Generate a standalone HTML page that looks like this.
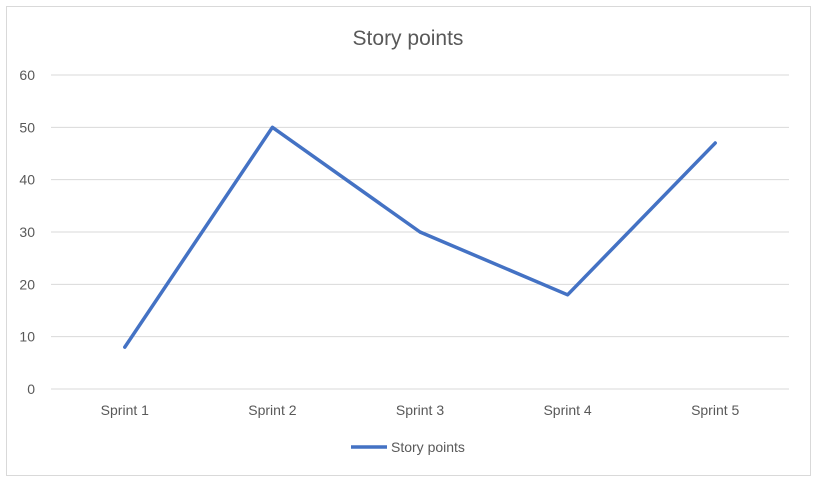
<!DOCTYPE html>
<html><head><meta charset="utf-8"><style>
body{margin:0;background:#fff;}
svg{display:block;font-family:"Liberation Sans",Arial,sans-serif;}
</style></head><body>
<svg width="819" height="482">
<rect x="6.5" y="6.5" width="804" height="469" fill="#fff" stroke="#d9d9d9"/>
<text x="408" y="45" text-anchor="middle" font-size="21" fill="#595959">Story points</text>
<g id="grid"></g>
<g id="xl"></g>
<polyline id="line" fill="none" stroke="#4472c4" stroke-width="3.5" stroke-linejoin="round" stroke-linecap="round"/>
<g>
<line x1="351" y1="447" x2="387" y2="447" stroke="#4472c4" stroke-width="3.5"/>
<text x="391" y="452" font-size="14" fill="#595959">Story points</text>
</g>
</svg>
<script>
const categories=["Sprint 1","Sprint 2","Sprint 3","Sprint 4","Sprint 5"];
const values=[8,50,30,18,47];
const yTicks=[0,10,20,30,40,50,60];
const NS="http://www.w3.org/2000/svg";
const plotLeft=51,plotRight=789,plotTop=75,plotBottom=389,yMax=60;
const yS=v=>plotBottom-(v/yMax)*(plotBottom-plotTop);
const band=(plotRight-plotLeft)/categories.length;
const xS=i=>plotLeft+band*(i+0.5);
const grid=document.getElementById('grid');
yTicks.forEach(t=>{
 const l=document.createElementNS(NS,'line');
 l.setAttribute('x1',plotLeft);l.setAttribute('x2',plotRight);
 l.setAttribute('y1',yS(t));l.setAttribute('y2',yS(t));
 l.setAttribute('stroke','#d9d9d9');l.setAttribute('stroke-width','1');
 
 
 grid.appendChild(l);
 const tx=document.createElementNS(NS,'text');
 tx.setAttribute('x',35);tx.setAttribute('y',yS(t)+5);
 tx.setAttribute('text-anchor','end');tx.setAttribute('font-size','14');tx.setAttribute('fill','#595959');
 tx.textContent=t;
 
 
 grid.appendChild(tx);
});
const xl=document.getElementById('xl');
categories.forEach((c,i)=>{
 const tx=document.createElementNS(NS,'text');
 tx.setAttribute('x',xS(i));tx.setAttribute('y',415);
 tx.setAttribute('text-anchor','middle');tx.setAttribute('font-size','14');tx.setAttribute('fill','#595959');
 tx.textContent=c;
 
 
 xl.appendChild(tx);
});
document.getElementById('line').setAttribute('points',values.map((v,i)=>xS(i)+','+yS(v)).join(' '));
</script>
</body></html>
